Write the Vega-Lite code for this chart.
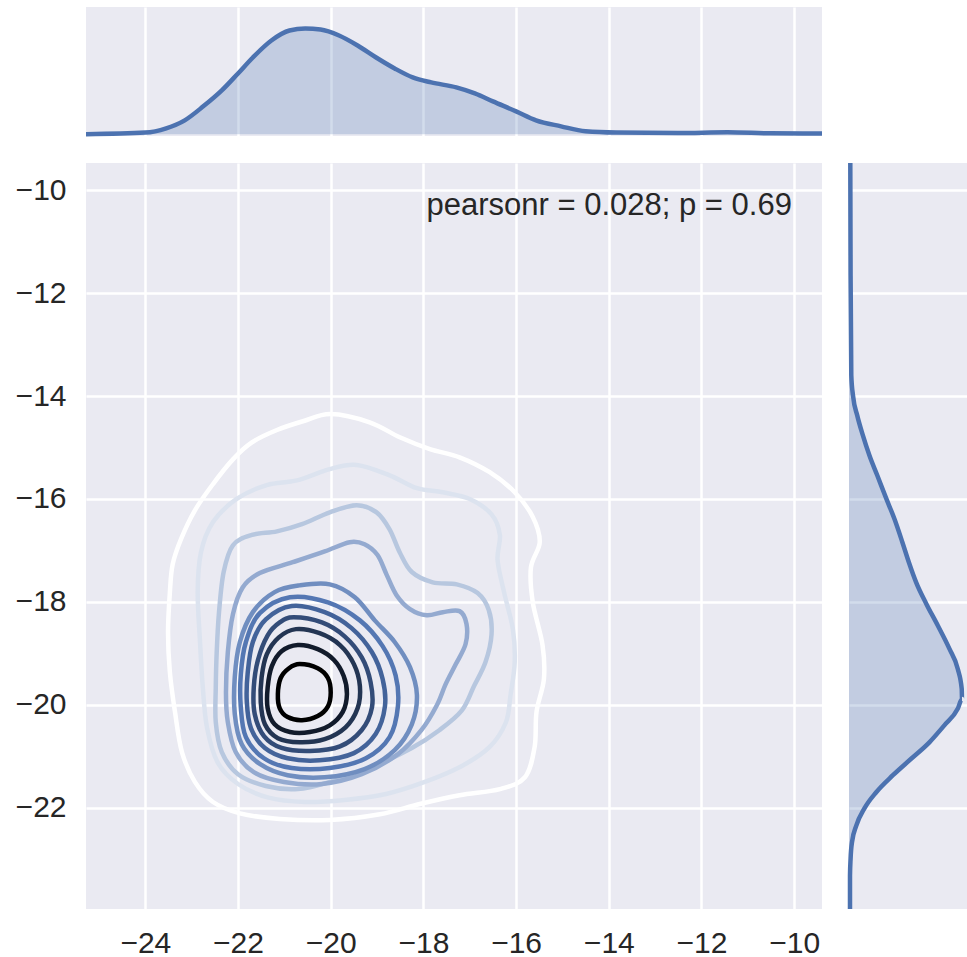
{
  "$schema": "https://vega.github.io/schema/vega-lite/v6.json",
  "background": "white",
  "padding": {"left": 0, "top": 7, "right": 0, "bottom": 0},
  "config": {
    "view": {"fill": "#eaeaf2", "stroke": null},
    "axis": {"domain": false, "ticks": false, "tickSize": 0, "gridColor": "#ffffff", "gridWidth": 2.5, "gridOpacity": 1, "labelFont": "Liberation Sans", "labelFontSize": 30, "labelColor": "#262626", "title": null, "labelFlush": false}
  },
  "datasets": {
    "topkde": [
      {"x": -25.28, "density": 0.0002}, {"x": -24.0, "density": 0.0034}, {"x": -23.55, "density": 0.012},
      {"x": -23.15, "density": 0.028}, {"x": -22.75, "density": 0.056}, {"x": -22.35, "density": 0.088},
      {"x": -22.0, "density": 0.122}, {"x": -21.68, "density": 0.154}, {"x": -21.28, "density": 0.188},
      {"x": -20.89, "density": 0.208}, {"x": -20.55, "density": 0.212}, {"x": -20.22, "density": 0.21},
      {"x": -19.82, "density": 0.198}, {"x": -19.42, "density": 0.178}, {"x": -19.02, "density": 0.154},
      {"x": -18.62, "density": 0.132}, {"x": -18.23, "density": 0.114}, {"x": -17.83, "density": 0.104},
      {"x": -17.29, "density": 0.094}, {"x": -16.89, "density": 0.082}, {"x": -16.5, "density": 0.066},
      {"x": -16.0, "density": 0.046}, {"x": -15.57, "density": 0.028}, {"x": -15.03, "density": 0.016},
      {"x": -14.5, "density": 0.006}, {"x": -13.84, "density": 0.0034}, {"x": -12.51, "density": 0.0026},
      {"x": -11.44, "density": 0.004}, {"x": -10.51, "density": 0.002}, {"x": -9.4, "density": 0.0014}
    ],
    "rightkde": [
      {"y": -9.47, "density": 0.0026}, {"y": -11.66, "density": 0.0032}, {"y": -13.6, "density": 0.0046},
      {"y": -13.99, "density": 0.008}, {"y": -14.38, "density": 0.0166}, {"y": -14.77, "density": 0.028},
      {"y": -15.16, "density": 0.0412}, {"y": -15.54, "density": 0.0566}, {"y": -15.99, "density": 0.0746},
      {"y": -16.39, "density": 0.0912}, {"y": -16.84, "density": 0.107}, {"y": -17.23, "density": 0.12},
      {"y": -17.62, "density": 0.1346}, {"y": -18.03, "density": 0.1546}, {"y": -18.46, "density": 0.178},
      {"y": -18.91, "density": 0.2012}, {"y": -19.3, "density": 0.218}, {"y": -19.69, "density": 0.226},
      {"y": -19.89, "density": 0.2266}, {"y": -20.08, "density": 0.218}, {"y": -20.4, "density": 0.1912},
      {"y": -20.73, "density": 0.1612}, {"y": -21.05, "density": 0.1246}, {"y": -21.37, "density": 0.088},
      {"y": -21.7, "density": 0.0546}, {"y": -22.01, "density": 0.0312}, {"y": -22.35, "density": 0.0146},
      {"y": -22.67, "density": 0.006}, {"y": -22.99, "density": 0.0032}, {"y": -23.32, "density": 0.002},
      {"y": -23.97, "density": 0.002}
    ],
    "contours": [
      {"level": 1, "i": 0, "x": -20.00, "y": -14.35}, {"level": 1, "i": 1, "x": -19.16, "y": -14.51},
      {"level": 1, "i": 2, "x": -18.51, "y": -14.80}, {"level": 1, "i": 3, "x": -17.86, "y": -15.03},
      {"level": 1, "i": 4, "x": -17.22, "y": -15.19}, {"level": 1, "i": 5, "x": -16.57, "y": -15.48},
      {"level": 1, "i": 6, "x": -16.03, "y": -15.87}, {"level": 1, "i": 7, "x": -15.64, "y": -16.35},
      {"level": 1, "i": 8, "x": -15.49, "y": -16.84}, {"level": 1, "i": 9, "x": -15.68, "y": -17.33},
      {"level": 1, "i": 10, "x": -15.64, "y": -18.01}, {"level": 1, "i": 11, "x": -15.43, "y": -18.84},
      {"level": 1, "i": 12, "x": -15.40, "y": -19.50}, {"level": 1, "i": 13, "x": -15.56, "y": -20.14},
      {"level": 1, "i": 14, "x": -15.60, "y": -20.82}, {"level": 1, "i": 15, "x": -15.81, "y": -21.41},
      {"level": 1, "i": 16, "x": -16.35, "y": -21.64}, {"level": 1, "i": 17, "x": -17.22, "y": -21.76},
      {"level": 1, "i": 18, "x": -18.08, "y": -21.93}, {"level": 1, "i": 19, "x": -18.94, "y": -22.13},
      {"level": 1, "i": 20, "x": -20.02, "y": -22.24}, {"level": 1, "i": 21, "x": -21.10, "y": -22.22},
      {"level": 1, "i": 22, "x": -21.96, "y": -22.11}, {"level": 1, "i": 23, "x": -22.54, "y": -21.89},
      {"level": 1, "i": 24, "x": -22.93, "y": -21.50}, {"level": 1, "i": 25, "x": -23.21, "y": -20.92},
      {"level": 1, "i": 26, "x": -23.36, "y": -20.14}, {"level": 1, "i": 27, "x": -23.47, "y": -19.37},
      {"level": 1, "i": 28, "x": -23.51, "y": -18.59}, {"level": 1, "i": 29, "x": -23.47, "y": -17.81},
      {"level": 1, "i": 30, "x": -23.41, "y": -17.27}, {"level": 1, "i": 31, "x": -23.23, "y": -16.78},
      {"level": 1, "i": 32, "x": -22.93, "y": -16.22}, {"level": 1, "i": 33, "x": -22.54, "y": -15.71},
      {"level": 1, "i": 34, "x": -22.11, "y": -15.23}, {"level": 1, "i": 35, "x": -21.70, "y": -14.90},
      {"level": 1, "i": 36, "x": -21.16, "y": -14.66}, {"level": 1, "i": 37, "x": -20.60, "y": -14.49},

      {"level": 2, "i": 0, "x": -19.44, "y": -15.34}, {"level": 2, "i": 1, "x": -18.73, "y": -15.54},
      {"level": 2, "i": 2, "x": -18.14, "y": -15.79}, {"level": 2, "i": 3, "x": -17.58, "y": -15.87},
      {"level": 2, "i": 4, "x": -17.00, "y": -16.00}, {"level": 2, "i": 5, "x": -16.53, "y": -16.30},
      {"level": 2, "i": 6, "x": -16.35, "y": -16.70}, {"level": 2, "i": 7, "x": -16.40, "y": -17.19},
      {"level": 2, "i": 8, "x": -16.25, "y": -17.85}, {"level": 2, "i": 9, "x": -16.07, "y": -18.53},
      {"level": 2, "i": 10, "x": -16.03, "y": -19.17}, {"level": 2, "i": 11, "x": -16.12, "y": -19.81},
      {"level": 2, "i": 12, "x": -16.22, "y": -20.34}, {"level": 2, "i": 13, "x": -16.57, "y": -20.82},
      {"level": 2, "i": 14, "x": -17.17, "y": -21.19}, {"level": 2, "i": 15, "x": -17.97, "y": -21.50},
      {"level": 2, "i": 16, "x": -18.83, "y": -21.74}, {"level": 2, "i": 17, "x": -19.70, "y": -21.85},
      {"level": 2, "i": 18, "x": -20.56, "y": -21.89}, {"level": 2, "i": 19, "x": -21.36, "y": -21.80},
      {"level": 2, "i": 20, "x": -22.00, "y": -21.54}, {"level": 2, "i": 21, "x": -22.44, "y": -21.12},
      {"level": 2, "i": 22, "x": -22.67, "y": -20.44}, {"level": 2, "i": 23, "x": -22.76, "y": -19.66},
      {"level": 2, "i": 24, "x": -22.82, "y": -18.78}, {"level": 2, "i": 25, "x": -22.87, "y": -17.81},
      {"level": 2, "i": 26, "x": -22.80, "y": -17.04}, {"level": 2, "i": 27, "x": -22.54, "y": -16.45},
      {"level": 2, "i": 28, "x": -22.03, "y": -16.00}, {"level": 2, "i": 29, "x": -21.38, "y": -15.73},
      {"level": 2, "i": 30, "x": -20.73, "y": -15.64}, {"level": 2, "i": 31, "x": -20.02, "y": -15.42},

      {"level": 3, "i": 0, "x": -19.44, "y": -16.12}, {"level": 3, "i": 1, "x": -19.01, "y": -16.26},
      {"level": 3, "i": 2, "x": -18.73, "y": -16.59}, {"level": 3, "i": 3, "x": -18.51, "y": -17.04},
      {"level": 3, "i": 4, "x": -18.25, "y": -17.42}, {"level": 3, "i": 5, "x": -17.80, "y": -17.62},
      {"level": 3, "i": 6, "x": -17.28, "y": -17.66}, {"level": 3, "i": 7, "x": -16.83, "y": -17.83},
      {"level": 3, "i": 8, "x": -16.59, "y": -18.16}, {"level": 3, "i": 9, "x": -16.53, "y": -18.63},
      {"level": 3, "i": 10, "x": -16.66, "y": -19.17}, {"level": 3, "i": 11, "x": -16.91, "y": -19.64},
      {"level": 3, "i": 12, "x": -17.17, "y": -20.11}, {"level": 3, "i": 13, "x": -17.65, "y": -20.49},
      {"level": 3, "i": 14, "x": -18.25, "y": -20.84}, {"level": 3, "i": 15, "x": -19.16, "y": -21.23},
      {"level": 3, "i": 16, "x": -20.02, "y": -21.50}, {"level": 3, "i": 17, "x": -20.71, "y": -21.64},
      {"level": 3, "i": 18, "x": -21.40, "y": -21.58}, {"level": 3, "i": 19, "x": -22.00, "y": -21.35},
      {"level": 3, "i": 20, "x": -22.35, "y": -20.92}, {"level": 3, "i": 21, "x": -22.48, "y": -20.34},
      {"level": 3, "i": 22, "x": -22.48, "y": -19.66}, {"level": 3, "i": 23, "x": -22.46, "y": -18.98},
      {"level": 3, "i": 24, "x": -22.41, "y": -18.20}, {"level": 3, "i": 25, "x": -22.31, "y": -17.42},
      {"level": 3, "i": 26, "x": -22.11, "y": -16.90}, {"level": 3, "i": 27, "x": -21.70, "y": -16.70},
      {"level": 3, "i": 28, "x": -21.16, "y": -16.63}, {"level": 3, "i": 29, "x": -20.62, "y": -16.49},
      {"level": 3, "i": 30, "x": -20.02, "y": -16.26},

      {"level": 4, "i": 0, "x": -19.59, "y": -16.84}, {"level": 4, "i": 1, "x": -19.27, "y": -16.88},
      {"level": 4, "i": 2, "x": -18.99, "y": -17.09}, {"level": 4, "i": 3, "x": -18.79, "y": -17.48},
      {"level": 4, "i": 4, "x": -18.58, "y": -17.87}, {"level": 4, "i": 5, "x": -18.29, "y": -18.14},
      {"level": 4, "i": 6, "x": -17.93, "y": -18.26}, {"level": 4, "i": 7, "x": -17.58, "y": -18.20},
      {"level": 4, "i": 8, "x": -17.22, "y": -18.18}, {"level": 4, "i": 9, "x": -17.07, "y": -18.43},
      {"level": 4, "i": 10, "x": -17.09, "y": -18.82}, {"level": 4, "i": 11, "x": -17.30, "y": -19.21},
      {"level": 4, "i": 12, "x": -17.52, "y": -19.60}, {"level": 4, "i": 13, "x": -17.71, "y": -20.01},
      {"level": 4, "i": 14, "x": -18.04, "y": -20.49}, {"level": 4, "i": 15, "x": -18.55, "y": -20.96},
      {"level": 4, "i": 16, "x": -19.33, "y": -21.35}, {"level": 4, "i": 17, "x": -20.19, "y": -21.54},
      {"level": 4, "i": 18, "x": -21.01, "y": -21.50}, {"level": 4, "i": 19, "x": -21.66, "y": -21.31},
      {"level": 4, "i": 20, "x": -22.05, "y": -20.92}, {"level": 4, "i": 21, "x": -22.22, "y": -20.34},
      {"level": 4, "i": 22, "x": -22.26, "y": -19.76}, {"level": 4, "i": 23, "x": -22.22, "y": -18.98},
      {"level": 4, "i": 24, "x": -22.11, "y": -18.24}, {"level": 4, "i": 25, "x": -21.90, "y": -17.72},
      {"level": 4, "i": 26, "x": -21.53, "y": -17.44}, {"level": 4, "i": 27, "x": -20.82, "y": -17.23},
      {"level": 4, "i": 28, "x": -20.13, "y": -17.02},

      {"level": 5, "i": 0, "x": -20.67, "y": -17.68}, {"level": 5, "i": 1, "x": -20.02, "y": -17.66},
      {"level": 5, "i": 2, "x": -19.48, "y": -17.91}, {"level": 5, "i": 3, "x": -19.05, "y": -18.36},
      {"level": 5, "i": 4, "x": -18.62, "y": -18.78}, {"level": 5, "i": 5, "x": -18.29, "y": -19.27},
      {"level": 5, "i": 6, "x": -18.14, "y": -19.81}, {"level": 5, "i": 7, "x": -18.25, "y": -20.38},
      {"level": 5, "i": 8, "x": -18.62, "y": -20.88}, {"level": 5, "i": 9, "x": -19.27, "y": -21.25},
      {"level": 5, "i": 10, "x": -20.13, "y": -21.41}, {"level": 5, "i": 11, "x": -20.93, "y": -21.37},
      {"level": 5, "i": 12, "x": -21.53, "y": -21.15}, {"level": 5, "i": 13, "x": -21.92, "y": -20.77},
      {"level": 5, "i": 14, "x": -22.07, "y": -20.18}, {"level": 5, "i": 15, "x": -22.07, "y": -19.46},
      {"level": 5, "i": 16, "x": -21.96, "y": -18.78}, {"level": 5, "i": 17, "x": -21.68, "y": -18.20},
      {"level": 5, "i": 18, "x": -21.21, "y": -17.81},

      {"level": 6, "i": 0, "x": -20.88, "y": -17.91}, {"level": 6, "i": 1, "x": -20.06, "y": -18.01},
      {"level": 6, "i": 2, "x": -19.37, "y": -18.36}, {"level": 6, "i": 3, "x": -18.88, "y": -18.86},
      {"level": 6, "i": 4, "x": -18.60, "y": -19.43}, {"level": 6, "i": 5, "x": -18.55, "y": -20.03},
      {"level": 6, "i": 6, "x": -18.73, "y": -20.63}, {"level": 6, "i": 7, "x": -19.24, "y": -21.04},
      {"level": 6, "i": 8, "x": -20.02, "y": -21.23}, {"level": 6, "i": 9, "x": -20.84, "y": -21.23},
      {"level": 6, "i": 10, "x": -21.44, "y": -21.04}, {"level": 6, "i": 11, "x": -21.83, "y": -20.63},
      {"level": 6, "i": 12, "x": -21.94, "y": -20.05}, {"level": 6, "i": 13, "x": -21.94, "y": -19.41},
      {"level": 6, "i": 14, "x": -21.83, "y": -18.78}, {"level": 6, "i": 15, "x": -21.53, "y": -18.22},

      {"level": 7, "i": 0, "x": -20.84, "y": -18.08}, {"level": 7, "i": 1, "x": -20.13, "y": -18.20},
      {"level": 7, "i": 2, "x": -19.55, "y": -18.51}, {"level": 7, "i": 3, "x": -19.11, "y": -18.98},
      {"level": 7, "i": 4, "x": -18.88, "y": -19.50}, {"level": 7, "i": 5, "x": -18.83, "y": -20.03},
      {"level": 7, "i": 6, "x": -19.03, "y": -20.57}, {"level": 7, "i": 7, "x": -19.50, "y": -20.94},
      {"level": 7, "i": 8, "x": -20.24, "y": -21.08}, {"level": 7, "i": 9, "x": -20.93, "y": -21.04},
      {"level": 7, "i": 10, "x": -21.42, "y": -20.84}, {"level": 7, "i": 11, "x": -21.72, "y": -20.46},
      {"level": 7, "i": 12, "x": -21.81, "y": -19.95}, {"level": 7, "i": 13, "x": -21.79, "y": -19.37},
      {"level": 7, "i": 14, "x": -21.68, "y": -18.78}, {"level": 7, "i": 15, "x": -21.40, "y": -18.34},

      {"level": 8, "i": 0, "x": -20.80, "y": -18.30}, {"level": 8, "i": 1, "x": -20.19, "y": -18.40},
      {"level": 8, "i": 2, "x": -19.70, "y": -18.67}, {"level": 8, "i": 3, "x": -19.33, "y": -19.08},
      {"level": 8, "i": 4, "x": -19.14, "y": -19.56}, {"level": 8, "i": 5, "x": -19.11, "y": -20.05},
      {"level": 8, "i": 6, "x": -19.33, "y": -20.49}, {"level": 8, "i": 7, "x": -19.80, "y": -20.81},
      {"level": 8, "i": 8, "x": -20.45, "y": -20.90}, {"level": 8, "i": 9, "x": -21.06, "y": -20.84},
      {"level": 8, "i": 10, "x": -21.44, "y": -20.61}, {"level": 8, "i": 11, "x": -21.64, "y": -20.18},
      {"level": 8, "i": 12, "x": -21.66, "y": -19.66}, {"level": 8, "i": 13, "x": -21.57, "y": -19.13},
      {"level": 8, "i": 14, "x": -21.36, "y": -18.65}, {"level": 8, "i": 15, "x": -21.10, "y": -18.40},

      {"level": 9, "i": 0, "x": -20.75, "y": -18.53}, {"level": 9, "i": 1, "x": -20.24, "y": -18.61},
      {"level": 9, "i": 2, "x": -19.80, "y": -18.84}, {"level": 9, "i": 3, "x": -19.50, "y": -19.21},
      {"level": 9, "i": 4, "x": -19.37, "y": -19.64}, {"level": 9, "i": 5, "x": -19.42, "y": -20.07},
      {"level": 9, "i": 6, "x": -19.68, "y": -20.44}, {"level": 9, "i": 7, "x": -20.13, "y": -20.67},
      {"level": 9, "i": 8, "x": -20.67, "y": -20.73}, {"level": 9, "i": 9, "x": -21.14, "y": -20.65},
      {"level": 9, "i": 10, "x": -21.42, "y": -20.38}, {"level": 9, "i": 11, "x": -21.51, "y": -19.95},
      {"level": 9, "i": 12, "x": -21.49, "y": -19.46}, {"level": 9, "i": 13, "x": -21.38, "y": -19.02},
      {"level": 9, "i": 14, "x": -21.12, "y": -18.69},

      {"level": 10, "i": 0, "x": -20.71, "y": -18.84}, {"level": 10, "i": 1, "x": -20.28, "y": -18.92},
      {"level": 10, "i": 2, "x": -19.93, "y": -19.13}, {"level": 10, "i": 3, "x": -19.72, "y": -19.44},
      {"level": 10, "i": 4, "x": -19.65, "y": -19.79}, {"level": 10, "i": 5, "x": -19.74, "y": -20.14},
      {"level": 10, "i": 6, "x": -20.02, "y": -20.40}, {"level": 10, "i": 7, "x": -20.45, "y": -20.53},
      {"level": 10, "i": 8, "x": -20.88, "y": -20.53}, {"level": 10, "i": 9, "x": -21.21, "y": -20.38},
      {"level": 10, "i": 10, "x": -21.36, "y": -20.07}, {"level": 10, "i": 11, "x": -21.36, "y": -19.66},
      {"level": 10, "i": 12, "x": -21.27, "y": -19.25}, {"level": 10, "i": 13, "x": -21.06, "y": -18.96},

      {"level": 11, "i": 0, "x": -20.67, "y": -19.21}, {"level": 11, "i": 1, "x": -20.28, "y": -19.29},
      {"level": 11, "i": 2, "x": -20.06, "y": -19.48}, {"level": 11, "i": 3, "x": -20.00, "y": -19.76},
      {"level": 11, "i": 4, "x": -20.06, "y": -20.03}, {"level": 11, "i": 5, "x": -20.28, "y": -20.22},
      {"level": 11, "i": 6, "x": -20.62, "y": -20.30}, {"level": 11, "i": 7, "x": -20.93, "y": -20.24},
      {"level": 11, "i": 8, "x": -21.10, "y": -20.07}, {"level": 11, "i": 9, "x": -21.14, "y": -19.79},
      {"level": 11, "i": 10, "x": -21.08, "y": -19.48}, {"level": 11, "i": 11, "x": -20.90, "y": -19.29}
    ]
  },
  "spacing": 10,
  "vconcat": [
    {
      "width": 736,
      "height": 129,
      "data": {"name": "topkde"},
      "encoding": {
        "x": {"field": "x", "type": "quantitative", "scale": {"domain": [-25.28, -9.4], "nice": false, "zero": false},
              "axis": {"labels": false, "grid": true, "values": [-24, -22, -20, -18, -16, -14, -12, -10], "minExtent": 0, "maxExtent": 0}},
        "y": {"field": "density", "type": "quantitative", "scale": {"domain": [-0.0034, 0.2552], "nice": false, "zero": false},
              "axis": {"labels": false, "grid": false, "minExtent": 86, "maxExtent": 86}}
      },
      "layer": [
        {"mark": {"type": "area", "color": "#4c72b0", "opacity": 0.25, "interpolate": "monotone"}, "encoding": {"y": {"field": "density", "type": "quantitative", "stack": null}}},
        {"mark": {"type": "line", "color": "#4c72b0", "strokeWidth": 4.5, "interpolate": "monotone"}, "encoding": {}}
      ]
    },
    {
      "spacing": 18,
      "hconcat": [
        {
          "width": 736,
          "height": 746,
          "layer": [
            {
              "data": {"name": "contours"},
              "mark": {"type": "line", "interpolate": "cardinal-closed", "strokeWidth": 4.5, "strokeJoin": "round"},
              "encoding": {
                "x": {"field": "x", "type": "quantitative", "scale": {"domain": [-25.28, -9.4], "nice": false, "zero": false},
                      "axis": {"values": [-24, -22, -20, -18, -16, -14, -12, -10], "labelPadding": 19}},
                "y": {"field": "y", "type": "quantitative", "scale": {"domain": [-23.97, -9.47], "nice": false, "zero": false},
                      "axis": {"values": [-22, -20, -18, -16, -14, -12, -10], "labelPadding": 20, "minExtent": 86, "maxExtent": 86}},
                "color": {"field": "level", "type": "ordinal", "legend": null,
                          "scale": {"domain": [1, 2, 3, 4, 5, 6, 7, 8, 9, 10, 11],
                                    "range": ["#ffffff", "#dce3ef", "#b7c7df", "#94aad0", "#708ec0", "#5477b3", "#43639a", "#334c78", "#233553", "#121b2b", "#000000"]}},
                "detail": {"field": "level", "type": "ordinal"},
                "order": {"field": "i", "type": "quantitative"}
              }
            },
            {
              "data": {"values": [{"label": "pearsonr = 0.028; p = 0.69"}]},
              "mark": {"type": "text", "align": "right", "baseline": "alphabetic", "font": "Liberation Sans", "fontSize": 31, "color": "#262626"},
              "encoding": {
                "x": {"datum": -10.05, "type": "quantitative"},
                "y": {"datum": -10.49, "type": "quantitative"},
                "text": {"field": "label", "type": "nominal"}
              }
            }
          ]
        },
        {
          "width": 119,
          "height": 746,
          "data": {"name": "rightkde"},
          "encoding": {
            "y": {"field": "y", "type": "quantitative", "scale": {"domain": [-23.97, -9.47], "nice": false, "zero": false},
                  "axis": {"labels": false, "grid": true, "values": [-22, -20, -18, -16, -14, -12, -10], "minExtent": 0, "maxExtent": 0}},
            "x": {"field": "density", "type": "quantitative", "scale": {"domain": [0, 0.2386], "nice": false, "zero": false}, "axis": null}
          },
          "layer": [
            {"mark": {"type": "area", "orient": "horizontal", "color": "#4c72b0", "opacity": 0.25, "interpolate": "monotone"}, "encoding": {"x": {"field": "density", "type": "quantitative", "stack": null}}},
            {"mark": {"type": "line", "color": "#4c72b0", "strokeWidth": 4.5, "interpolate": "monotone", "orient": "vertical"}, "encoding": {"order": {"field": "y", "type": "quantitative"}}}
          ]
        }
      ]
    }
  ]
}
